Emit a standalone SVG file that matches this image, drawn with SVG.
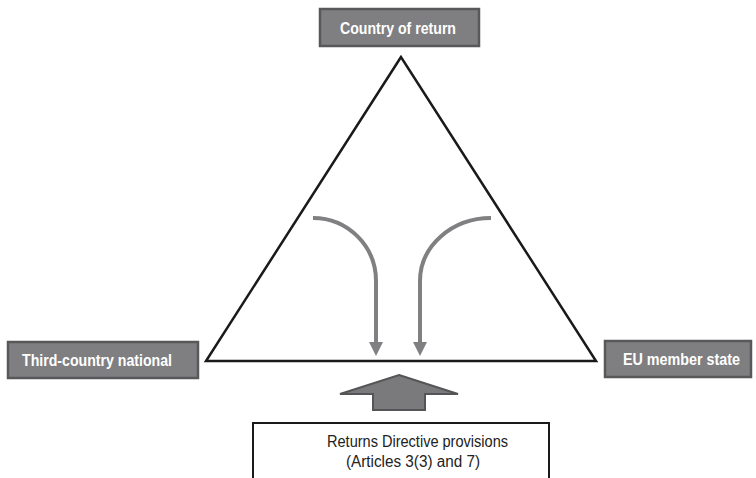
<svg xmlns="http://www.w3.org/2000/svg" width="756" height="478" viewBox="0 0 756 478">
<defs>
<style>
.gbox{fill:#7f7f81;stroke:#58585a;stroke-width:2.5}
.glab{font-family:"Liberation Sans",Arial,sans-serif;font-weight:bold;font-size:17px;fill:#ffffff;text-anchor:middle}
.curve{fill:none;stroke:#808083;stroke-width:4}
.head{fill:#808083}
.tlab{font-family:"Liberation Sans",Arial,sans-serif;font-size:16px;fill:#222;text-anchor:middle}
</style>
</defs>
<rect width="756" height="478" fill="#ffffff"/>
<g id="connectors">
<polygon points="401,57 206,361 596,361" fill="none" stroke="#1a1a1a" stroke-width="2.5" stroke-linejoin="miter"/>
<path class="curve" d="M313,218 A63,63 0 0 1 376,281 L376,343"/>
<polygon class="head" points="369,342 383,342 376,356"/>
<path class="curve" d="M491,218 A71,63 0 0 0 420,281 L420,343"/>
<polygon class="head" points="413,342 427,342 420,356"/>
<polygon points="399,375 458,394 425,394 425,410 373,410 373,394 340,394" fill="#7a7a7c" stroke="#555557" stroke-width="2"/>
</g>
<g id="country-of-return">
<rect class="gbox" x="320" y="9" width="159" height="37"/>
<text class="glab" x="398" y="34" textLength="116" lengthAdjust="spacingAndGlyphs">Country of return</text>
</g>
<g id="third-country-national">
<rect class="gbox" x="8" y="342" width="190" height="36"/>
<text class="glab" x="97" y="366" textLength="150" lengthAdjust="spacingAndGlyphs">Third-country national</text>
</g>
<g id="eu-member-state">
<rect class="gbox" x="605" y="341" width="146" height="36"/>
<text class="glab" x="681.5" y="365" textLength="117" lengthAdjust="spacingAndGlyphs">EU member state</text>
</g>
<g id="returns-directive">
<rect x="253" y="423" width="296" height="70" fill="#ffffff" stroke="#1a1a1a" stroke-width="2"/>
<text class="tlab" x="417.5" y="447" textLength="181" lengthAdjust="spacingAndGlyphs">Returns Directive provisions</text>
<text class="tlab" x="413" y="467" textLength="134" lengthAdjust="spacingAndGlyphs">(Articles 3(3) and 7)</text>
</g>
</svg>
